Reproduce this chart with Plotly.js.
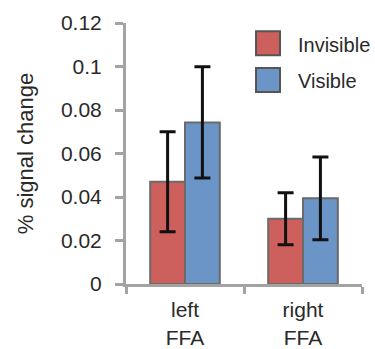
<!DOCTYPE html>
<html>
<head>
<meta charset="utf-8">
<script src="https://cdn.plot.ly/plotly-3.0.1.min.js"></script>
<style>
html,body{margin:0;padding:0;background:#fff;}
#chart{width:375px;height:349px;}
</style>
</head>
<body>
<div id="chart"></div>
<script>
const categories = ["left<br>FFA", "right<br>FFA"];
const seriesNames = ["Invisible", "Visible"];
const invisible = [0.047, 0.030];
const invisibleErr = [0.023, 0.012];
const visible = [0.0743, 0.0394];
const visibleErr = [0.0256, 0.019];
const yTicks = [0, 0.02, 0.04, 0.06, 0.08, 0.1, 0.12];

const RED = "#cd5f5c";
const BLUE = "#6b95c7";
const OUTLINE = "#6a6a6a";
const AXIS = "#a3a3a3";
const FONT = "Liberation Sans, Arial, sans-serif";
const TXT = "#2a2a2a";

const traces = [
  {type: "bar", name: seriesNames[0], x: categories, y: invisible,
   marker: {color: RED, line: {color: OUTLINE, width: 2}},
   error_y: {type: "data", array: invisibleErr, visible: true, color: "#111", thickness: 3, width: 8}},
  {type: "bar", name: seriesNames[1], x: categories, y: visible,
   marker: {color: BLUE, line: {color: OUTLINE, width: 2}},
   error_y: {type: "data", array: visibleErr, visible: true, color: "#111", thickness: 3, width: 8}}
];

const legendColors = [RED, BLUE];
const legendY = [[0.876, 0.968], [0.736, 0.828]];
const shapes = [];
const annotations = [];
seriesNames.forEach((n, i) => {
  shapes.push({type: "rect", xref: "paper", yref: "paper",
    x0: 0.551, x1: 0.6525, y0: legendY[i][0], y1: legendY[i][1],
    fillcolor: legendColors[i], line: {color: "#555", width: 2}});
  annotations.push({xref: "paper", yref: "paper", x: 0.722, y: (legendY[i][0] + legendY[i][1]) / 2 - 0.006,
    xanchor: "left", yanchor: "middle", text: n, showarrow: false,
    font: {family: FONT, size: 20, color: TXT}});
});

const layout = {
  width: 375, height: 349,
  margin: {l: 126, r: 13, t: 23, b: 65},
  paper_bgcolor: "#fff", plot_bgcolor: "#fff",
  barmode: "group", bargap: 0.41, bargroupgap: 0,
  showlegend: false,
  font: {family: FONT, color: TXT},
  xaxis: {
    type: "category", tickson: "boundaries", ticks: "outside", ticklen: 7,
    tickwidth: 3, tickcolor: AXIS, showline: true, linecolor: AXIS, linewidth: 3,
    showgrid: false, zeroline: false, ticklabelstandoff: 5,
    tickfont: {family: FONT, size: 21, color: TXT}
  },
  yaxis: {
    range: [0, 0.12], tickvals: yTicks, ticks: "outside", ticklen: 8, tickwidth: 3,
    tickcolor: AXIS, showline: true, linecolor: AXIS, linewidth: 3,
    showgrid: false, zeroline: false, ticklabelstandoff: 9,
    tickfont: {family: FONT, size: 21, color: TXT},
    title: {text: "% signal change", font: {family: FONT, size: 22, color: TXT}, standoff: 22}
  },
  shapes: shapes,
  annotations: annotations
};

Plotly.newPlot("chart", traces, layout, {displayModeBar: false, staticPlot: true});
</script>
</body>
</html>
